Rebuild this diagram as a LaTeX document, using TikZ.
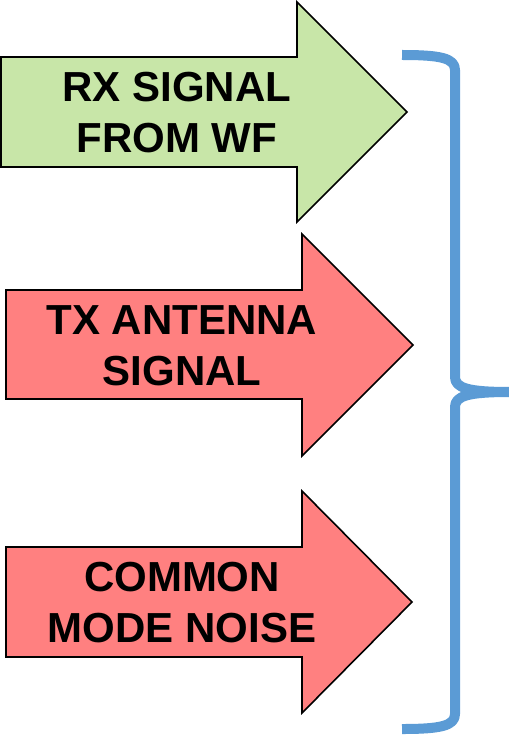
\documentclass[tikz,border=0pt]{standalone}
\usepackage{fontspec}
\setmainfont{Liberation Sans}
\definecolor{arrgreen}{HTML}{C8E6A8}
\definecolor{arrred}{HTML}{FF8080}
\definecolor{bracecol}{HTML}{5B9BD5}
\begin{document}
\begin{tikzpicture}[x=1pt,y=-1pt,
  bigarrow/.style={draw=black,line width=1.6pt,line join=miter},
  label/.style={align=center,inner sep=0pt,font=\fontsize{42}{51}\selectfont\bfseries},
  bracestyle/.style={draw=bracecol,line width=10pt,line join=round}]
\useasboundingbox (0,0) rectangle (508,735);
% arrow 1
\path[bigarrow,fill=arrgreen] (1,57) -- (297,57) -- (297,2) -- (407,112) -- (297,222) -- (297,167) -- (1,167) -- cycle;
\node[label] (rx) at (177,113) {RX SIGNAL\\FROM WF};
% arrow 2
\path[bigarrow,fill=arrred] (6,290) -- (302,290) -- (302,234) -- (413,345) -- (302,456) -- (302,399) -- (6,399) -- cycle;
\node[label] (tx) at (182,346) {TX ANTENNA\\SIGNAL};
% arrow 3
\path[bigarrow,fill=arrred] (6,547) -- (302,547) -- (302,491) -- (412,602) -- (302,713) -- (302,657) -- (6,657) -- cycle;
\node[label] (cm) at (182,603) {COMMON\\MODE NOISE};
% brace
\coordinate (btop) at (402,55);
\coordinate (bmid) at (510,392);
\coordinate (bbot) at (402,729);
\draw[bracestyle] (btop) .. controls (440,55) and (455,58) .. (455,70) -- (455,377)
  .. controls (455,388) and (468,392) .. (bmid);
\draw[bracestyle] (bmid) .. controls (468,392) and (455,396) .. (455,407) -- (455,714)
  .. controls (455,726) and (440,729) .. (bbot);
\end{tikzpicture}
\end{document}
